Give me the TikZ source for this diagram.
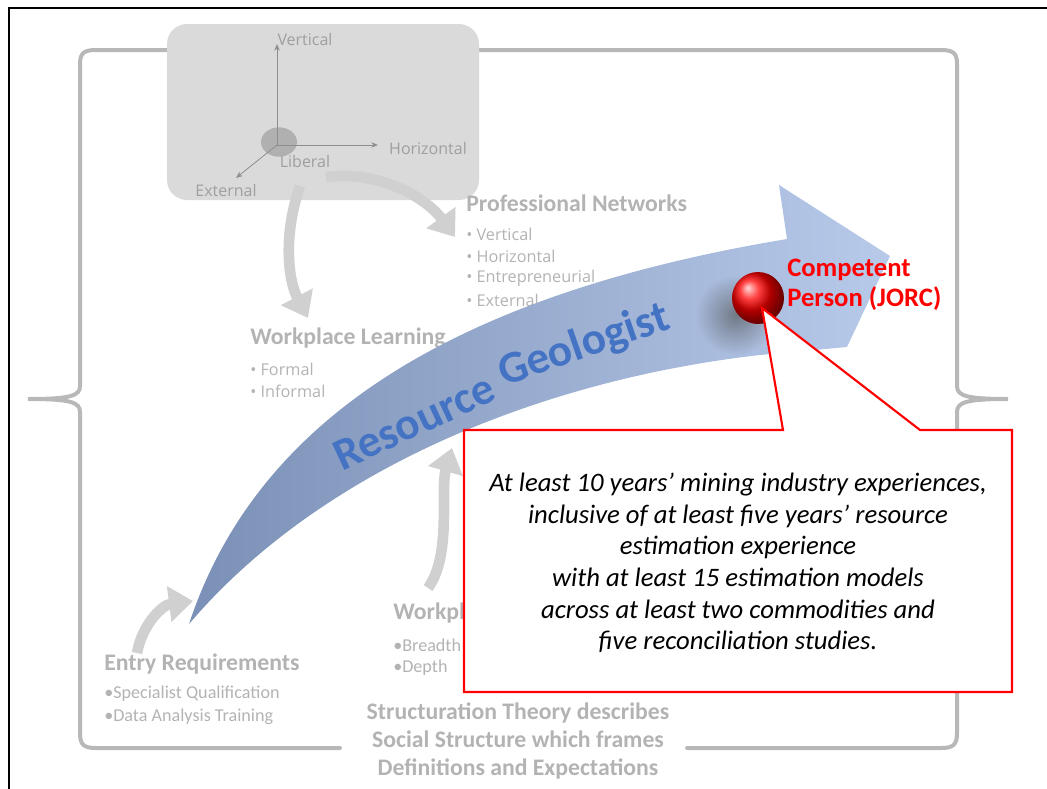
\documentclass[tikz,border=0pt]{standalone}
\usepackage{fontspec}
\setmainfont{Carlito}
\newfontfamily\seg{Open Sans}
\usetikzlibrary{arrows.meta,shadings,fadings}

\definecolor{gtext}{HTML}{B3B3B3}
\definecolor{braceg}{HTML}{B8B8B8}
\definecolor{boxg}{HTML}{DADADA}
\definecolor{axisg}{HTML}{8E8E8E}
\definecolor{arrg}{HTML}{D0D0D0}
\definecolor{blueA}{HTML}{7B90B6}
\definecolor{blueB}{HTML}{B8CAEA}
\definecolor{rgtxt}{HTML}{4573C4}
\tikzfading[name=softdot, inner color=transparent!0, outer color=transparent!100]

\begin{document}
\begin{tikzpicture}[x=0.75pt,y=-0.75pt,
  head/.style={font=\bfseries\fontsize{17.8}{20}\selectfont, text=gtext, anchor=west, inner sep=0},
  item/.style={font=\seg\fontsize{12.2}{14}\selectfont, text=gtext, anchor=west, inner sep=0},
  itemc/.style={font=\fontsize{13.6}{15}\selectfont, text=gtext, anchor=west, inner sep=0},
  axlab/.style={font=\seg\fontsize{12}{14}\selectfont, text=axisg!85, inner sep=0},
  axisline/.style={draw=axisg, line width=0.6, -{Stealth[length=5pt,width=4pt]}},
  garrow/.style={draw=arrg, line width=8, -{Triangle[width=26pt,length=18pt]}},
  brace/.style={draw=braceg, line width=3, line cap=round},
  rgfont/.style={text=rgtxt, font=\bfseries\fontsize{34}{36}\selectfont, inner sep=0},
]
\useasboundingbox (0,0) rectangle (1047,789);
% outer frame
\draw[black, line width=1.5] (9,789) -- (9,8) -- (1047,8);

% grey brace
\draw[brace] (340,748) -- (96,748) .. controls (84,748) and (80,745) .. (80,733)
  -- (80,412) .. controls (80,402) and (70,399) .. (28,399)
  .. controls (70,399) and (80,396) .. (80,386)
  -- (80,64) .. controls (80,53) and (84,50) .. (96,50) -- (941,50)
  .. controls (953,50) and (957,53) .. (957,64) -- (957,386)
  .. controls (957,396) and (967,399) .. (1008,399)
  .. controls (967,399) and (957,402) .. (957,412) -- (957,733)
  .. controls (957,745) and (953,748) .. (941,748) -- (687,748);

% grey box with axes
\fill[boxg, rounded corners=15pt] (167,24) rectangle (479,200);
\fill[axisg, opacity=0.55] (279,142) ellipse (13.5pt and 11pt);
\coordinate (O) at (277,145);
\node[axlab] (vert) at (305,39) {Vertical};
\node[axlab] (hor) at (428,148) {Horizontal};
\node[axlab] (lib) at (305,161) {Liberal};
\node[axlab] (ext) at (226,190) {External};
\coordinate (vt) at (277,44);
\coordinate (ht) at (378,145);
\coordinate (et) at (236,178);
\draw[axisline] (O) -- (vt);
\draw[axisline] (O) -- (ht);
\draw[axisline] (O) -- (et);

% grey text blocks
\node[head] (pn) at (466,203) {Professional Networks};
\node[item] (pn1) at (466,234) {• Vertical};
\node[item] (pn2) at (466,256) {• Horizontal};
\node[item] (pn3) at (466,278) {• Entrepreneurial};
\node[item] (pn4) at (466,300) {• External};

\node[head] (wl) at (250,338) {Workplace Learning};
\node[item] (wl1) at (250,369) {• Formal};
\node[item] (wl2) at (250,391) {• Informal};

\node[head] (er) at (104,664) {Entry Requirements};
\node[itemc] (er1) at (104,694) {•Specialist Qualification};
\node[itemc] (er2) at (104,717) {•Data Analysis Training};

\node[head] (wp) at (393,613) {Workplace Experience};
\node[itemc] (wp1) at (393,645) {•Breadth};
\node[itemc] (wp2) at (393,668) {•Depth};

\node[font=\bfseries\fontsize{17.8}{21}\selectfont, text=gtext, align=center, inner sep=0] (st) at (518,741)
  {Structuration Theory describes\\Social Structure which frames\\Definitions and Expectations};

% grey curved arrows
\coordinate (a1s) at (326,177);
\coordinate (a1e) at (455,237);
\coordinate (a2s) at (300,186);
\coordinate (a2e) at (308,318);
\coordinate (a3s) at (137,653);
\coordinate (a3e) at (193,601);
\coordinate (a4s) at (428,588);
\coordinate (a4e) at (452,448);
\draw[garrow] (a1s) .. controls (382,170) and (428,200) .. (a1e);
\draw[garrow] (a2s) .. controls (283,235) and (288,280) .. (a2e);
\draw[garrow] (a3s) .. controls (142,625) and (162,605) .. (a3e);
\draw[garrow] (a4s) .. controls (452,555) and (440,490) .. (a4e);

% big blue arrow
\shade[left color=blueA, right color=blueB]
  (189,624) .. controls (250,440) and (420,300) .. (787,239) -- (779,185) -- (890,256)
  -- (847,347) -- (760,355) .. controls (540,380) and (320,470) .. (189,624) -- cycle;

\node[rotate=25, rgfont] (rg1) at (414,422) {Resource};
\node[rotate=19, rgfont] (rg2) at (584,346) {Geologist};

% red ball with soft shadow
\fill[black!70, opacity=0.6, path fading=softdot] (736,315) circle (30pt);
\shade[ball color=red] (758,298) circle (19.5pt);
\node[circle, minimum size=39pt, inner sep=0] (ball) at (758,298) {};
\node[anchor=west, text=red, align=left, inner sep=0, font=\bfseries\fontsize{20}{22.5}\selectfont] (cp) at (787,285) {Competent\\Person (JORC)};

% callout
\coordinate (ptr) at (762,308);
\draw[red, line width=1.6, fill=white] (464,430) -- (783,430) -- (ptr) -- (920,430) -- (1012,430) -- (1012,692) -- (464,692) -- cycle;
\node[font=\itshape\fontsize{20}{23.7}\selectfont, align=center, inner sep=0] (call) at (738,563)
  {At least 10 years’ mining industry experiences,\\inclusive of at least five years’ resource\\estimation experience\\with at least 15 estimation models\\across at least two commodities and\\five reconciliation studies.};
\end{tikzpicture}
\end{document}
